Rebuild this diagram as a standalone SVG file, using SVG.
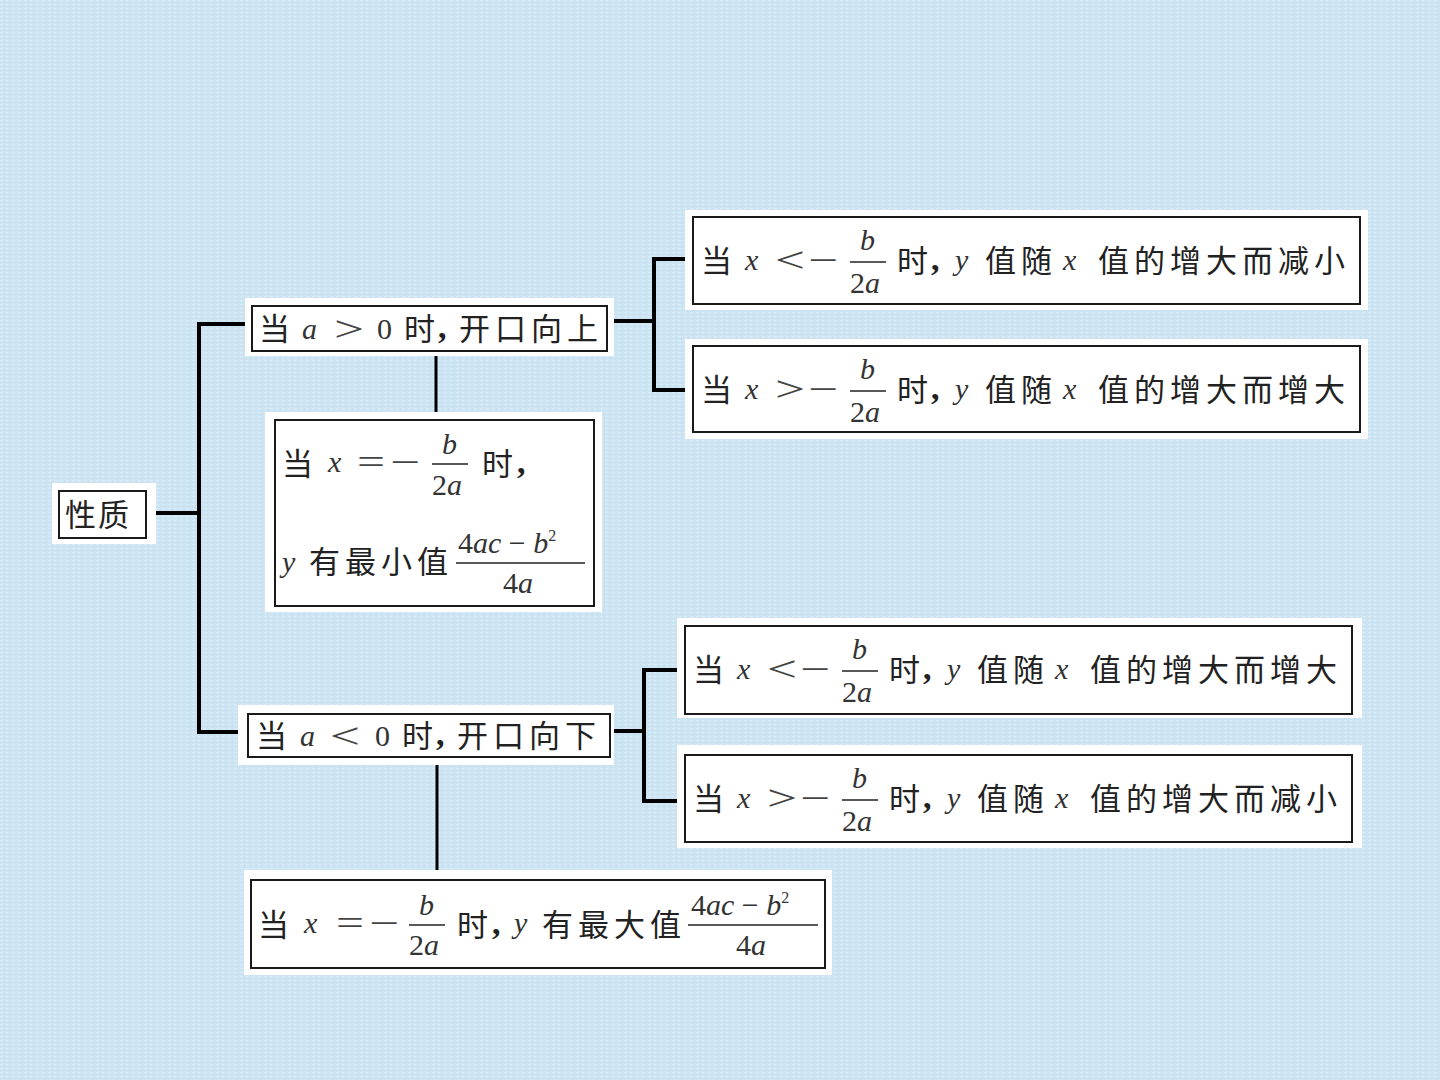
<svg xmlns="http://www.w3.org/2000/svg" width="1440" height="1080" viewBox="0 0 1440 1080">
<defs>
<pattern id="tex" width="6" height="4" patternUnits="userSpaceOnUse">
<rect width="6" height="4" fill="#cde4f3"/>
<rect x="0" y="0" width="3" height="1" fill="#d9ecf8"/>
<rect x="3" y="2" width="2" height="1" fill="#c3dcee"/>
</pattern>
<style>
.halo{fill:#ffffff}
.box{fill:#ffffff;stroke:#1a1a1a;stroke-width:2}
.cn{font-family:"Noto Sans CJK SC","Noto Sans CJK TC",sans-serif;font-size:31px;letter-spacing:5px;fill:#222}
.m{font-family:"Liberation Serif",serif;font-size:30px;fill:#333}
.i{font-style:italic}
.cm{font-family:"Liberation Serif",serif;font-size:34px;font-weight:bold;fill:#222}
.op{font-family:"Liberation Serif",serif;font-size:36px;fill:#444}
.fl{stroke:#222;stroke-width:1.6}
.con{fill:none;stroke:#000;stroke-width:4;stroke-linecap:square}
.con2{fill:none;stroke:#000;stroke-width:3}
</style>
</defs>
<rect width="1440" height="1080" fill="url(#tex)"/>

<g id="connectors">
<path class="con" d="M146 513 H199 M199 324 V732 M199 324 H252 M199 732 H248"/>
<path class="con2" d="M436 351 V415"/>
<path class="con" d="M607 321 H654 M654 259 V390 M654 259 H693 M654 390 H693"/>
<path class="con2" d="M437 757 V880"/>
<path class="con" d="M610 731 H644 M644 670 V801 M644 670 H685 M644 801 H685"/>
</g>

<g id="node-xingzhi">
<rect class="halo" x="52" y="483" width="104" height="61"/>
<rect class="box" x="59" y="491" width="87" height="47"/>
<text class="cn" x="65" y="526" style="letter-spacing:2px">性质</text>
</g>

<g id="node-a-pos">
<rect class="halo" x="245" y="298" width="369" height="58"/>
<rect class="box" x="252" y="306" width="355" height="45"/>
<text class="cn" x="259" y="340">当</text>
<text class="m i" x="302" y="339">a</text>
<text class="op" x="334" y="341" textLength="30" lengthAdjust="spacingAndGlyphs">&gt;</text>
<text class="m" x="377" y="339">0</text>
<text class="cn" x="404" y="340">时</text>
<text class="cm" x="438" y="338">,</text>
<text class="cn" x="459" y="340">开口向上</text>
</g>

<g id="node-min">
<rect class="halo" x="265" y="412" width="337" height="200"/>
<rect class="box" x="275" y="420" width="319" height="186"/>
<text class="cn" x="282" y="475">当</text>
<text class="m i" x="328" y="472">x</text>
<text class="op" x="357" y="474" textLength="28" lengthAdjust="spacingAndGlyphs">=</text>
<text class="op" x="390" y="474" textLength="30" lengthAdjust="spacingAndGlyphs">−</text>
<text class="m i" x="442" y="454">b</text>
<line class="fl" x1="432" y1="464" x2="468" y2="464"/>
<text class="m" x="432" y="495">2<tspan class="i">a</tspan></text>
<text class="cn" x="482" y="475">时</text>
<text class="cm" x="517" y="473">,</text>
<text class="m i" x="282" y="572">y</text>
<text class="cn" x="309" y="573">有最小值</text>
<text class="m" x="458" y="553">4<tspan class="i">ac</tspan> − <tspan class="i">b</tspan><tspan style="font-size:16px" dy="-12">2</tspan></text>
<line class="fl" x1="456" y1="563" x2="585" y2="563"/>
<text class="m" x="503" y="593">4<tspan class="i">a</tspan></text>
</g>

<g id="node-r1" transform="translate(693,217)">
<rect class="halo" x="-8" y="-7" width="683" height="100"/>
<rect class="box" x="0" y="0" width="667" height="87"/>
<text class="cn" x="8" y="55">当</text>
<text class="m i" x="52" y="53">x</text>
<text class="op" x="82" y="55" textLength="30" lengthAdjust="spacingAndGlyphs">&lt;</text>
<text class="op" x="115" y="55" textLength="30" lengthAdjust="spacingAndGlyphs">−</text>
<text class="m i" x="167" y="33">b</text>
<line class="fl" x1="157" y1="45" x2="193" y2="45"/>
<text class="m" x="157" y="76">2<tspan class="i">a</tspan></text>
<text class="cn" x="204" y="55">时</text>
<text class="cm" x="238" y="53">,</text>
<text class="m i" x="262" y="53">y</text>
<text class="cn" x="292" y="55">值随</text>
<text class="m i" x="370" y="53">x</text>
<text class="cn" x="405" y="55">值的增大而减小</text>
</g>

<g id="node-r2" transform="translate(693,346)">
<rect class="halo" x="-8" y="-7" width="683" height="100"/>
<rect class="box" x="0" y="0" width="667" height="86"/>
<text class="cn" x="8" y="55">当</text>
<text class="m i" x="52" y="53">x</text>
<text class="op" x="82" y="55" textLength="30" lengthAdjust="spacingAndGlyphs">&gt;</text>
<text class="op" x="115" y="55" textLength="30" lengthAdjust="spacingAndGlyphs">−</text>
<text class="m i" x="167" y="33">b</text>
<line class="fl" x1="157" y1="45" x2="193" y2="45"/>
<text class="m" x="157" y="76">2<tspan class="i">a</tspan></text>
<text class="cn" x="204" y="55">时</text>
<text class="cm" x="238" y="53">,</text>
<text class="m i" x="262" y="53">y</text>
<text class="cn" x="292" y="55">值随</text>
<text class="m i" x="370" y="53">x</text>
<text class="cn" x="405" y="55">值的增大而增大</text>
</g>

<g id="node-a-neg">
<rect class="halo" x="238" y="705" width="376" height="60"/>
<rect class="box" x="248" y="714" width="362" height="43"/>
<text class="cn" x="256" y="747">当</text>
<text class="m i" x="300" y="746">a</text>
<text class="op" x="330" y="748" textLength="30" lengthAdjust="spacingAndGlyphs">&lt;</text>
<text class="m" x="375" y="746">0</text>
<text class="cn" x="402" y="747">时</text>
<text class="cm" x="436" y="745">,</text>
<text class="cn" x="457" y="747">开口向下</text>
</g>

<g id="node-r3" transform="translate(685,626)">
<rect class="halo" x="-8" y="-8" width="685" height="100"/>
<rect class="box" x="0" y="0" width="667" height="88"/>
<text class="cn" x="8" y="55">当</text>
<text class="m i" x="52" y="53">x</text>
<text class="op" x="82" y="55" textLength="30" lengthAdjust="spacingAndGlyphs">&lt;</text>
<text class="op" x="115" y="55" textLength="30" lengthAdjust="spacingAndGlyphs">−</text>
<text class="m i" x="167" y="33">b</text>
<line class="fl" x1="157" y1="45" x2="193" y2="45"/>
<text class="m" x="157" y="76">2<tspan class="i">a</tspan></text>
<text class="cn" x="204" y="55">时</text>
<text class="cm" x="238" y="53">,</text>
<text class="m i" x="262" y="53">y</text>
<text class="cn" x="292" y="55">值随</text>
<text class="m i" x="370" y="53">x</text>
<text class="cn" x="405" y="55">值的增大而增大</text>
</g>

<g id="node-r4" transform="translate(685,755)">
<rect class="halo" x="-8" y="-10" width="685" height="103"/>
<rect class="box" x="0" y="0" width="667" height="87"/>
<text class="cn" x="8" y="55">当</text>
<text class="m i" x="52" y="53">x</text>
<text class="op" x="82" y="55" textLength="30" lengthAdjust="spacingAndGlyphs">&gt;</text>
<text class="op" x="115" y="55" textLength="30" lengthAdjust="spacingAndGlyphs">−</text>
<text class="m i" x="167" y="33">b</text>
<line class="fl" x1="157" y1="45" x2="193" y2="45"/>
<text class="m" x="157" y="76">2<tspan class="i">a</tspan></text>
<text class="cn" x="204" y="55">时</text>
<text class="cm" x="238" y="53">,</text>
<text class="m i" x="262" y="53">y</text>
<text class="cn" x="292" y="55">值随</text>
<text class="m i" x="370" y="53">x</text>
<text class="cn" x="405" y="55">值的增大而减小</text>
</g>

<g id="node-max">
<rect class="halo" x="244" y="870" width="588" height="105"/>
<rect class="box" x="251" y="880" width="574" height="88"/>
<text class="cn" x="258" y="936">当</text>
<text class="m i" x="304" y="933">x</text>
<text class="op" x="336" y="935" textLength="28" lengthAdjust="spacingAndGlyphs">=</text>
<text class="op" x="369" y="935" textLength="30" lengthAdjust="spacingAndGlyphs">−</text>
<text class="m i" x="419" y="915">b</text>
<line class="fl" x1="409" y1="925" x2="445" y2="925"/>
<text class="m" x="409" y="955">2<tspan class="i">a</tspan></text>
<text class="cn" x="457" y="936">时</text>
<text class="cm" x="492" y="934">,</text>
<text class="m i" x="514" y="933">y</text>
<text class="cn" x="542" y="936">有最大值</text>
<text class="m" x="691" y="915">4<tspan class="i">ac</tspan> − <tspan class="i">b</tspan><tspan style="font-size:16px" dy="-12">2</tspan></text>
<line class="fl" x1="688" y1="925" x2="818" y2="925"/>
<text class="m" x="736" y="955">4<tspan class="i">a</tspan></text>
</g>
</svg>
